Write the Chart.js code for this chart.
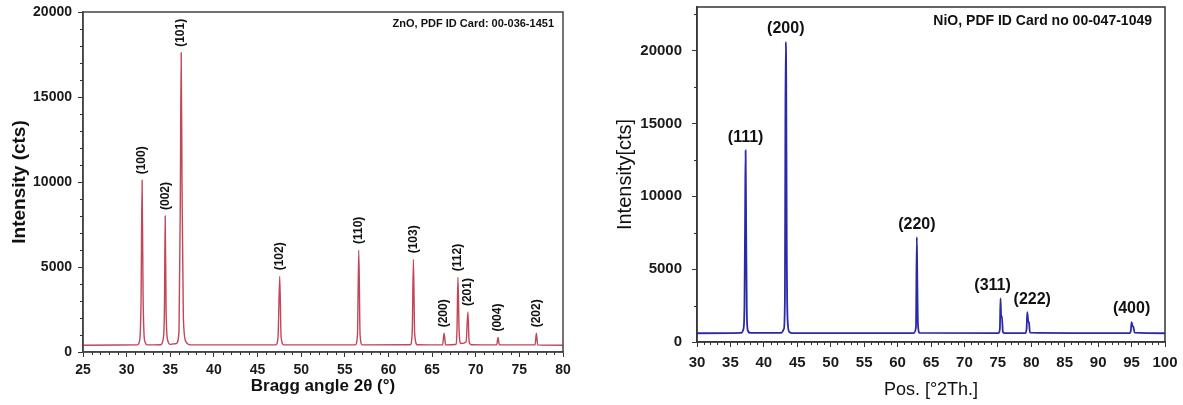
<!DOCTYPE html>
<html>
<head>
<meta charset="utf-8">
<script src="https://cdn.jsdelivr.net/npm/chart.js@4.4.0/dist/chart.umd.min.js"></script>
<style>
  html, body { margin: 0; padding: 0; background: #fff; }
  #wrap { position: relative; width: 1183px; height: 405px; }
  canvas { position: absolute; top: 0; }
  #zno { left: 0; }
  #nio { left: 600px; }
</style>
</head>
<body>
<div id="wrap">
  <canvas id="zno" width="590" height="405"></canvas>
  <canvas id="nio" width="583" height="405"></canvas>
</div>
<script>
// ZnO pattern
const znoAngles = [25, 31.2, 31.5, 31.65, 31.77, 31.88, 32.05, 32.4,
    33.9, 34.2, 34.33, 34.42, 34.52, 34.7, 35.0,
    35.7, 36.0, 36.15, 36.25, 36.35, 36.5, 36.8, 37.3,
    47.1, 47.35, 47.54, 47.7, 48.0,
    56.2, 56.45, 56.6, 56.75, 57.0,
    62.5, 62.72, 62.86, 63.0, 63.3,
    66.2, 66.38, 66.55,
    67.7, 67.85, 67.96, 68.1, 68.3, 68.9, 69.1, 69.25, 69.5,
    72.4, 72.56, 72.7,
    76.8, 76.95, 77.1, 80];
const znoCounts = [400, 420, 700, 3000, 10100, 3500, 700, 420,
    430, 800, 2500, 8000, 2500, 700, 450,
    500, 1200, 9000, 17600, 9700, 2000, 600, 420,
    420, 900, 4450, 900, 420,
    420, 1000, 6000, 1000, 420,
    430, 1100, 5450, 1100, 430,
    420, 1100, 420,
    440, 1200, 4400, 1200, 500, 600, 2350, 600, 430,
    420, 850, 420,
    420, 1100, 420, 400];
const znoPeakLabels = ['(100)', '(002)', '(101)', '(102)', '(110)', '(103)', '(200)', '(112)', '(201)', '(004)', '(202)'];
const znoPeakAngles = [31.77, 34.42, 36.25, 47.54, 56.6, 62.86, 66.38, 67.96, 69.1, 72.56, 76.95];
const znoPeakCounts = [10100, 8000, 17600, 4450, 6000, 5450, 1100, 4400, 2350, 850, 1100];
const znoYTicks = [0, 5000, 10000, 15000, 20000];

// NiO pattern
const nioAngles = [30, 36.6, 36.95, 37.1, 37.2, 37.27, 37.35, 37.45, 37.6, 38.0,
    42.6, 43.0, 43.15, 43.22, 43.28, 43.35, 43.42, 43.55, 43.8, 44.3,
    62.4, 62.75, 62.88, 62.95, 63.05, 63.3,
    75.1, 75.3, 75.4, 75.5, 75.6, 75.75, 76.0,
    79.1, 79.3, 79.4, 79.55, 79.65, 79.8,
    94.7, 94.9, 95.0, 95.15, 95.3, 95.45, 100];
const nioCounts = [600, 620, 900, 2500, 9000, 13150, 8000, 2000, 800, 620,
    620, 900, 3000, 15000, 20600, 17600, 6800, 1500, 700, 610,
    610, 1000, 7200, 4300, 1200, 620,
    610, 900, 3000, 1700, 1800, 700, 610,
    610, 900, 2050, 1400, 1350, 650,
    610, 800, 1370, 1100, 1000, 640, 600];
const nioPeakLabels = ['(111)', '(200)', '(220)', '(311)', '(222)', '(400)'];
const nioPeakAngles = [37.27, 43.28, 62.88, 75.4, 79.4, 95.0];
const nioPeakCounts = [13150, 20600, 7200, 3000, 2050, 1370];
const nioYTicks = [0, 5000, 10000, 15000, 20000];

const FAMILY = '"Liberation Sans", Arial, Helvetica, sans-serif';

const toPoints = (xs, ys) => xs.map((x, i) => ({ x, y: ys[i] }));

// frame box, minor ticks, card note and hkl labels
const makeDecor = (cfg) => ({
    id: 'xrdDecor',
    afterDraw(chart) {
        const { ctx, chartArea: a, scales: { x, y } } = chart;
        ctx.save();
        ctx.strokeStyle = cfg.frameColor;
        ctx.lineWidth = 1.5;
        ctx.strokeRect(a.left, a.top, a.right - a.left, a.bottom - a.top);

        ctx.strokeStyle = '#333';
        ctx.lineWidth = 1;
        ctx.beginPath();
        for (let v = x.min + 1; v < x.max; v += 1) {
            if (v % 5 === 0) continue;
            const px = Math.round(x.getPixelForValue(v)) + 0.5;
            ctx.moveTo(px, a.bottom);
            ctx.lineTo(px, a.bottom + 3);
        }
        for (let v = cfg.yMinor; v < y.max; v += cfg.yMinor) {
            if (v % 5000 === 0) continue;
            const py = Math.round(y.getPixelForValue(v)) + 0.5;
            ctx.moveTo(a.left, py);
            ctx.lineTo(a.left - 3, py);
        }
        ctx.stroke();

        ctx.fillStyle = '#111';
        ctx.font = cfg.noteFont;
        ctx.textAlign = 'right';
        ctx.textBaseline = 'middle';
        ctx.fillText(cfg.note, a.right - cfg.noteInset[0], a.top + cfg.noteInset[1]);

        ctx.font = cfg.labelFont;
        cfg.labels.forEach((text, i) => {
            const px = x.getPixelForValue(cfg.angles[i]) + (cfg.nudge[text] || 0);
            const py = y.getPixelForValue(cfg.counts[i]) - cfg.gap;
            if (cfg.rotate) {
                ctx.save();
                ctx.translate(px, py);
                ctx.rotate(-Math.PI / 2);
                ctx.textAlign = 'left';
                ctx.textBaseline = 'middle';
                ctx.fillText(text, 0, 0);
                ctx.restore();
            } else {
                ctx.textAlign = 'center';
                ctx.textBaseline = 'middle';
                ctx.fillText(text, px, py);
            }
        });
        ctx.restore();
    }
});

// fixed box sizes, no label overflow padding: chart layout padding decides the plot area
const axisX = (min, max, h, fontSize, pad, title) => ({
    type: 'linear', min, max,
    afterFit: (s) => { s.height = h; s.paddingLeft = 0; s.paddingRight = 0; },
    ticks: { stepSize: 5, autoSkip: false, maxRotation: 0, color: '#1a1a1a', padding: pad,
        font: { family: FAMILY, size: fontSize, weight: 'bold' }, callback: (v) => String(v) },
    grid: { drawOnChartArea: false, drawTicks: true, tickLength: 5, color: '#333' },
    border: { color: '#444', width: 1.5 },
    title
});

const axisY = (max, tickValues, w, fontSize, pad, title) => ({
    type: 'linear', min: 0, max,
    afterBuildTicks: (s) => { s.ticks = tickValues.map((value) => ({ value })); },
    afterFit: (s) => { s.width = w; s.paddingTop = 0; s.paddingBottom = 0; },
    ticks: { autoSkip: false, color: '#1a1a1a', padding: pad,
        font: { family: FAMILY, size: fontSize, weight: 'bold' }, callback: (v) => String(v) },
    grid: { drawOnChartArea: false, drawTicks: true, tickLength: 5, color: '#333' },
    border: { color: '#444', width: 1.5 },
    title
});

new Chart(document.getElementById('zno'), {
    type: 'line',
    data: { datasets: [{ data: toPoints(znoAngles, znoCounts), borderColor: '#c2455a', borderWidth: 1.4,
        pointRadius: 0, cubicInterpolationMode: 'monotone' }] },
    options: {
        responsive: false, animation: false, devicePixelRatio: 1,
        layout: { padding: { left: 0, top: 12, right: 27, bottom: 0 } },
        plugins: { legend: { display: false }, tooltip: { enabled: false } },
        scales: {
            x: axisX(25, 80, 53, 14, 5, { display: true, text: 'Bragg angle 2θ (°)', color: '#111',
                font: { family: FAMILY, size: 17, weight: 'bold' }, padding: { top: 0, bottom: 8 } }),
            y: axisY(20000, znoYTicks, 83, 14, 6, { display: true, text: 'Intensity (cts)', color: '#111',
                font: { family: FAMILY, size: 19, weight: 'bold' }, padding: { top: 8, bottom: 0 } })
        }
    },
    plugins: [makeDecor({
        frameColor: '#444', yMinor: 1000,
        note: 'ZnO, PDF ID Card: 00-036-1451', noteFont: 'bold 11px ' + FAMILY, noteInset: [9, 12],
        labels: znoPeakLabels, angles: znoPeakAngles, counts: znoPeakCounts,
        labelFont: 'bold 12px ' + FAMILY, gap: 6, rotate: true, nudge: {}
    })]
});

new Chart(document.getElementById('nio'), {
    type: 'line',
    data: { datasets: [{ data: toPoints(nioAngles, nioCounts), borderColor: '#2a2aa8', borderWidth: 1.8,
        pointRadius: 0, cubicInterpolationMode: 'monotone' }] },
    options: {
        responsive: false, animation: false, devicePixelRatio: 1,
        layout: { padding: { left: 0, top: 7, right: 18, bottom: 0 } },
        plugins: { legend: { display: false }, tooltip: { enabled: false } },
        scales: {
            x: axisX(30, 100, 63, 15, 7, { display: true, text: 'Pos. [°2Th.]', color: '#111',
                font: { family: FAMILY, size: 18 }, padding: { top: 0, bottom: 4 } }),
            y: axisY(23000, nioYTicks, 97, 15, 10, { display: true, text: 'Intensity[cts]', color: '#111',
                font: { family: FAMILY, size: 20 }, padding: { top: 13, bottom: 0 } })
        }
    },
    plugins: [makeDecor({
        frameColor: '#333', yMinor: 2500,
        note: 'NiO, PDF ID Card no 00-047-1049', noteFont: 'bold 14px ' + FAMILY, noteInset: [13, 14],
        labels: nioPeakLabels, angles: nioPeakAngles, counts: nioPeakCounts,
        labelFont: 'bold 16px ' + FAMILY, gap: 13, rotate: false, nudge: { '(311)': -8, '(222)': 5 }
    })]
});
</script>
</body>
</html>
